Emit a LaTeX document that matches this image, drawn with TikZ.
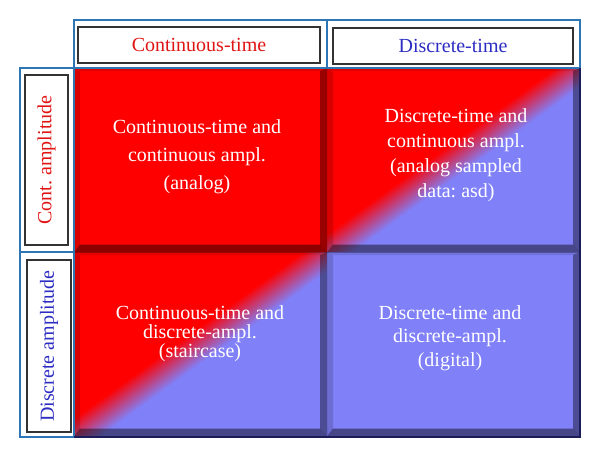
\documentclass[tikz,border=0pt]{standalone}
\usepackage{fontspec}
\setmainfont{Liberation Serif}
\frenchspacing
\definecolor{cellblue}{RGB}{128,128,248}
\definecolor{frameblue}{RGB}{46,117,182}
\definecolor{labelred}{RGB}{225,20,20}
\definecolor{labelblue}{RGB}{45,45,195}
\definecolor{edgenavy}{RGB}{28,28,90}
\pgfdeclarehorizontalshading{redtoblue}{100bp}{color(0bp)=(red); color(46.5bp)=(red); color(53.5bp)=(cellblue); color(100bp)=(cellblue)}

\begin{document}
\begin{tikzpicture}[x=0.75pt,y=0.75pt,
	frame/.style={draw=frameblue,line width=0.9pt},
	labelbox/.style={draw=black!80,line width=1.1pt,fill=white,inner sep=0pt,font=\fontsize{15}{18}\selectfont},
	celltext/.style={text=white,align=center,font=\fontsize{15}{#1}\selectfont}]
\useasboundingbox (0,0) rectangle (600,-457);

% faces of the four cells
\fill[red] (74,-68) rectangle (327,-252);
\shade[shading=redtoblue,shading angle=-54] (327,-68) rectangle (580,-252);
\shade[shading=redtoblue,shading angle=-54] (74,-252) rectangle (327,-437);
\fill[cellblue] (327,-252) rectangle (580,-437);

% bevelled edges
\foreach \x/\y in {74/-68, 327/-68, 74/-252, 327/-252}
	{
	\coordinate (tl) at (\x,\y);
	\coordinate (tr) at (\x+253,\y);
	\coordinate (bl) at (\x,\y-184.5);
	\coordinate (br) at (\x+253,\y-184.5);
	\coordinate (itl) at (\x+6,\y-3);
	\coordinate (itr) at (\x+246,\y-3);
	\coordinate (ibl) at (\x+6,\y-176.5);
	\coordinate (ibr) at (\x+246,\y-176.5);

	\fill[black,opacity=0.1] (tl) -- (tr) -- (itr) -- (itl) -- cycle;
	\fill[black,opacity=0.15] (tl) -- (itl) -- (ibl) -- (bl) -- cycle;
	\fill[black,opacity=0.4] (tr) -- (br) -- (ibr) -- (itr) -- cycle;
	\fill[black,opacity=0.45] (bl) -- (ibl) -- (ibr) -- (br) -- cycle;
	}

% frames round the headers
\draw[frame] (74,-20) rectangle (580,-68);
\draw[frame] (327,-20) -- (327,-68);
\draw[frame] (20,-68) rectangle (74,-437);
\draw[frame] (20,-252) -- (74,-252);
\draw[edgenavy,line width=1.1pt] (74,-437) -- (580,-437) -- (580,-68);

% header labels
\node[labelbox,minimum width=181.5pt,minimum height=27pt,text=labelred] (ctime) at (199,-45) {Continuous-time};
\node[labelbox,minimum width=180pt,minimum height=27pt,text=labelblue] (dtime) at (453,-46) {Discrete-time};
\node[labelbox,rotate=90,minimum width=127.5pt,minimum height=32.25pt,text=labelred] (campl) at (46.5,-160) {Cont. amplitude};
\node[labelbox,rotate=90,minimum width=129pt,minimum height=33pt,text=labelblue] (dampl) at (49,-346) {Discrete amplitude};

% cell texts
\node[celltext=21pt] (analog) at (197,-157) {Continuous-time and\\continuous ampl.\\(analog)};
\node[celltext=18.75pt] (asd) at (456,-155) {Discrete-time and\\continuous ampl.\\(analog sampled\\data: asd)};
\node[celltext=14.25pt] (stair) at (200,-334) {Continuous-time and\\discrete-ampl.\\(staircase)};
\node[celltext=17.6pt] (digital) at (450,-338) {Discrete-time and\\discrete-ampl.\\(digital)};
\end{tikzpicture}
\end{document}
